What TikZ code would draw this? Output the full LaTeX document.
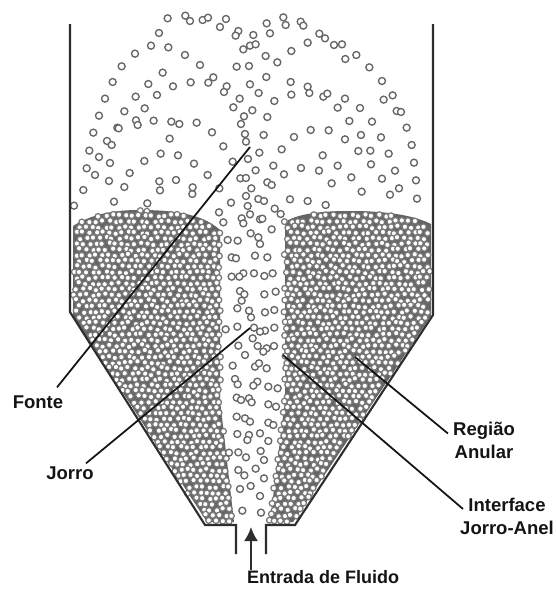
\documentclass[tikz,border=0pt]{standalone}
\usepackage{fontspec}
\setmainfont{Liberation Sans}
\usetikzlibrary{arrows.meta}
\definecolor{wallc}{HTML}{2E2E2E}
\definecolor{ringc}{HTML}{666666}
\definecolor{bedring}{HTML}{787878}
\definecolor{bedfill}{HTML}{646464}
\tikzset{
  wall/.style={draw=wallc,line width=2.1pt,line join=miter},
  leader/.style={draw=black!92,line width=1.75pt},
  free/.style={draw=ringc,fill=white,line width=1.35pt},
  packed/.style={draw=bedring,fill=white,line width=1.25pt},
  lab/.style={font=\bfseries\fontsize{18.5}{22}\selectfont,text=black!92,inner sep=0pt,align=center}
}
\begin{document}
\begin{tikzpicture}[x=1pt,y=-1pt]
\useasboundingbox[fill=white] (0,0) rectangle (556,589);
\pgfmathsetseed{4711}
% packed bed background
\fill[bedfill] (73,226) .. controls (95,212) and (120,210) .. (140,210) .. controls (180,210) and (205,216) .. (220,230) -- (220,400) -- (234,522) -- (207,522) -- (73,316) -- cycle;
\fill[bedfill] (285,222) .. controls (300,212) and (330,211) .. (350,211) .. controls (390,211) and (415,216) .. (431,224) -- (431,316) -- (293,522) -- (270,522) -- (285,400) -- cycle;
% packed particles
\foreach \r in {0,...,55}{
  \pgfmathsetmacro{\py}{210+\r*5.65}
  \pgfmathsetmacro{\off}{mod(\r,2)*3.2}
  \pgfmathsetmacro{\lmin}{\py<314?73.5:73.5+0.638*(\py-314)}
  \pgfmathsetmacro{\lmax}{\py<400?221:221+(\py-400)*0.105}
  \pgfmathsetmacro{\rmin}{\py<400?284:284-(\py-400)*0.125}
  \pgfmathsetmacro{\rmax}{\py<314?430:430-0.655*(\py-314)}
  \foreach \c in {0,...,55}{
    \pgfmathsetmacro{\px}{70+\c*6.5+\off+rand*1.3}
    \pgfmathsetmacro{\qy}{\py+rand*1.3}
    \pgfmathtruncatemacro{\ok}{((\px>\lmin)&&(\px<\lmax)&&(\qy>210+pow((\px-140)/70,2)*15))||((\px>\rmin)&&(\px<\rmax)&&(\qy>211+pow((\px-352)/80,2)*14))?1:0}
    \ifnum\ok=1 \path[packed] (\px,\qy) circle[radius=2.9]; \fi
  }
}
% freeboard, upper left
\begin{scope}[shift={(60,5)},x=0.3333pt,y=-0.3333pt]
\foreach \a/\b in {323/40,376/32,390/48,428/45,444/38,498/42,480/66,620/55,630/85,535/78,527/92,580/90,297/84,273/122,325/127,225/146,375/150,550/133,570/122,587/118,617/153,185/184,420/180,530/185,567/183,308/203,158/231,265/237,339/244,392/232,445/233,460/217,500/244,492/261,570/238,619/216,596/264,135/281,227/275,291/270,539/281,520/307,577/316,117/332,193/319,254/310,552/334,622/336,228/346,233/360,281/347,334/350,358/357,410/353,543/357,172/368,176/370,100/383,456/382,555/387,611/390,141/408,155/420,329/401,558/410,490/424,88/437,117/456,150/474,302/446,354/451,253/468,402/476,518/470,564/462,598/443,80/490,105/510,209/504,147/528,298/529,348/525,443/510,587/496,541/520,558/519,622/532}
  \path[free] (\a,\b) circle[radius=10.5];
\end{scope}
% freeboard, upper right
\begin{scope}[shift={(270,5)},x=0.3333pt,y=-0.3333pt]
\foreach \a/\b in {40/37,47/60,92/50,100/62,148/86,165/100,113/113,192/120,216/118,64/138,259/150,226/162,22/172,298/187,336/228,62/231,113/245,118/264,64/269,160/275,172/266,13/288,225/281,368/271,341/284,203/308,270/309,380/318,393/321,238/348,306/350,122/375,176/376,410/368}
  \path[free] (\a,\b) circle[radius=10.5];
\end{scope}
\begin{scope}[shift={(270,125)},x=0.3333pt,y=-0.3333pt]
\foreach \a/\b in {72/36,225/43,273/30,333/37,425/60,35/73,265/78,301/77,356/86,158/91,432/113,303/118,10/122,203/122,93/129,147/137,375/137,42/148,244/157,336/161,438/166,185/175,387/190,275/200,360/209,441/221,60/223,113/228,167/240,14/251,32/267,5/180}
  \path[free] (\a,\b) circle[radius=10.5];
\end{scope}
% freeboard, just above the bed on the left
\begin{scope}[shift={(60,165)},x=0.3333pt,y=-0.3333pt]
\foreach \a/\b in {70/75,193/66,300/76,397/87,398/67,162/110,262/115,42/122,478/70}
  \path[free] (\a,\b) circle[radius=10.5];
\end{scope}
% jet
\begin{scope}[shift={(205,170)},x=0.3333pt,y=-0.3333pt]
\foreach \a/\b in {139/55,123/78,160/87,177/93,78/98,128/108,42/127,135/133,110/145,165/148,172/146,115/160,55/157,200/178,137/190,160/202,165/222,68/210,98/212,80/262,93/265,150/257,187/262,115/310,80/320,103/320,147/310,178/318,203/310}
  \path[free] (\a,\b) circle[radius=10.5];
\end{scope}
\begin{scope}[shift={(205,285)},x=0.3333pt,y=-0.3333pt]
\foreach \a/\b in {105/18,118/28,178/28,212/20,110/47,97/70,132/77,180/82,208/75,138/97,62/133,97/125,147/128,208/128,180/137,165/140,143/160,100/182,158/183,185/190,175/200,207/183,120/210,83/242,150/245,162/235,185/250,90/282,98/298,157/290,145/302,190/305,218/310,95/338,108/345,132/340,140/352}
  \path[free] (\a,\b) circle[radius=10.5];
\end{scope}
\begin{scope}[shift={(205,400)},x=0.3333pt,y=-0.3333pt]
\foreach \a/\b in {190/13,213/20,95/50,120/55,135/65,190/68,205/75,97/102,165/100,132/105,127/120,190/123,72/158,100/157,123/172,167/153,177/180,100/210,118/226,152/206,177/235,137/258,105/267,165/288,112/332,168/338}
  \path[free] (\a,\b) circle[radius=10.5];
\end{scope}
% vessel
\draw[wall] (70,24) -- (70,312) -- (205,525) -- (236,525) -- (236,554);
\draw[wall] (433,24) -- (433,315) -- (295,525) -- (266,525) -- (266,554);
% labels
\node[lab,anchor=center] (fonte) at (38,402) {Fonte};
\node[lab,anchor=center] (jorro) at (70,473) {Jorro};
\node[lab,anchor=center] (regiao) at (484,440) {Região\\[1pt]Anular};
\node[lab,anchor=center] (interface) at (507,516) {Interface\\[1pt]Jorro-Anel};
\node[lab,anchor=west,font=\bfseries\fontsize{18}{20}\selectfont] (entrada) at (247,577) {Entrada de Fluido};
% leader targets
\coordinate (fonteTip) at (250,147);
\coordinate (jorroTip) at (250,328);
\coordinate (regiaoTip) at (355,357);
\coordinate (interfaceTip) at (283,355);
\coordinate (inletTip) at (251,527);
\draw[leader] ([xshift=19pt,yshift=8pt]fonte.north) -- (fonteTip);
\draw[leader] ([xshift=16pt,yshift=3pt]jorro.north) -- (jorroTip);
\draw[leader] ([xshift=-5pt,yshift=-12pt]regiao.north west) -- (regiaoTip);
\draw[leader] ([xshift=3pt,yshift=7pt]interface.west) -- (interfaceTip);
\draw[-{Latex[length=14pt,width=14pt]},wallc,line width=2pt] (entrada.north west -| inletTip) -- (inletTip);
\end{tikzpicture}
\end{document}
